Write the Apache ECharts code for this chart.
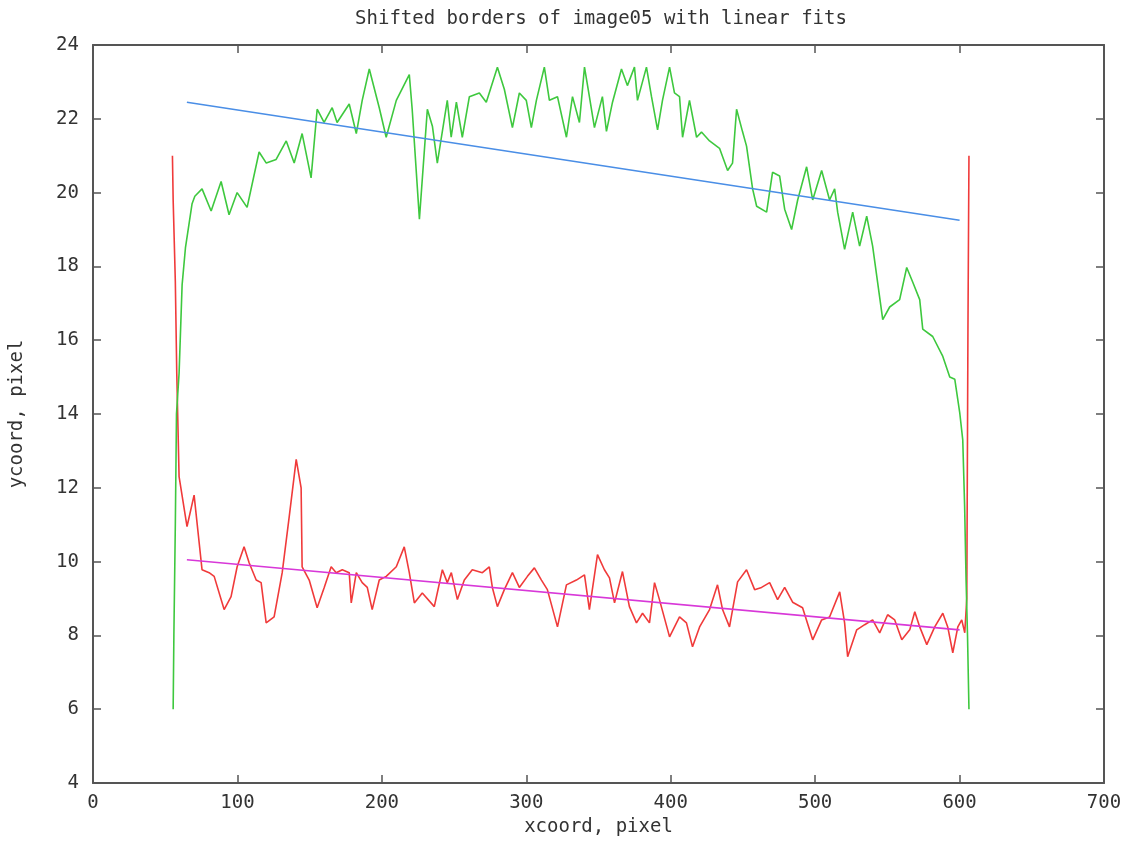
<!DOCTYPE html>
<html>
<head>
<meta charset="utf-8">
<script src="https://cdn.jsdelivr.net/npm/echarts@6/dist/echarts.min.js"></script>
<style>html,body{margin:0;padding:0;background:#fff}#c{width:1138px;height:846px}</style>
</head>
<body>
<div id="c"></div>
<script>
// Upper (green) border
const upperX = [55.5,56,57,57.8,59.6,61.7,64,68.6,70.5,75.5,81.8,88.7,94.2,99.8,106.7,115,120,126.8,133.8,139.3,144.8,151,155.2,160,165.6,169,177.4,182.3,186.4,191.3,198.2,203,210,219,221,226,231.5,235,238.4,245.3,248,251.6,255.7,260.6,267.5,272.3,280,284.8,290.4,295.2,300,303.5,307,312.5,316,321.6,327.8,332,336.8,340.3,343.7,347.2,352.7,355.5,359.7,365.9,370,374.9,377,383.2,386.7,390.9,394.3,399.2,402.6,406.1,408.2,413,417.9,421.3,426.9,433.8,439.4,442.8,445.6,449.8,452.5,456.7,459.5,466.4,470.5,475.4,478.9,483.7,487.9,494.1,498.3,504.5,510,513.5,515.6,520.4,526,530.8,535.7,539.8,546.8,551.6,558.5,563.4,567.6,572.4,574.5,581.4,588.4,593.2,596.7,600.1,602.2,603.5,604.5,605.5,606.5];
const upperY = [6.0,8.0,11.0,14.0,15.1,17.5,18.5,19.7,19.9,20.1,19.5,20.3,19.4,20.0,19.6,21.1,20.8,20.9,21.4,20.8,21.6,20.4,22.26,21.9,22.3,21.9,22.4,21.6,22.5,23.35,22.3,21.5,22.5,23.2,22.26,19.28,22.26,21.8,20.8,22.5,21.5,22.45,21.5,22.6,22.7,22.45,23.4,22.8,21.76,22.7,22.5,21.76,22.5,23.4,22.5,22.6,21.5,22.6,21.9,23.4,22.6,21.76,22.6,21.66,22.45,23.35,22.9,23.4,22.5,23.4,22.6,21.7,22.5,23.4,22.7,22.6,21.5,22.5,21.5,21.64,21.4,21.2,20.6,20.8,22.26,21.64,21.26,20.1,19.63,19.47,20.55,20.45,19.55,19.0,19.8,20.7,19.8,20.6,19.8,20.1,19.47,18.46,19.47,18.55,19.36,18.55,16.56,16.9,17.1,17.97,17.57,17.1,16.3,16.1,15.56,15.0,14.94,14.04,13.3,11.5,9.5,8.0,6.0];

// Lower (red) border
const lowerX = [55,55.5,57,58,59.6,65.1,70,75.5,80.4,83.9,90.8,95.6,99.8,104.6,108.1,113,116.4,119.9,125.4,131,135.8,140.7,144.1,144.8,149.7,155.2,160.1,164.9,168.4,172.6,177.4,178.8,182.3,186.4,189.9,193.3,198.2,203,210,215.5,219,222.5,228,236.3,241.9,245.3,248.1,252.3,257.1,262.6,269.6,274.4,276.5,280,284.8,290.4,295.2,300.8,305.6,310.5,314.6,321.6,327.8,334.7,340.3,343.7,349.3,354.1,357.6,361.1,366.6,371.4,376.3,380.5,385.3,388.8,392.2,399.2,406.1,410.9,415.1,420,426.9,432.4,435.9,440.7,446.3,452.5,458.1,462.9,468.5,474,478.9,484.4,491.3,498.3,504.5,510,517,520.4,522.5,528.8,534.3,539.8,544.7,550.2,555.1,560,565.5,569,572.4,577.3,582.8,588.4,591.8,595.3,598.8,601.5,603.6,605,605.8,606.5];
const lowerY = [21.0,19.8,17.6,15.1,12.3,10.95,11.8,9.78,9.7,9.6,8.7,9.05,9.86,10.4,9.97,9.5,9.43,8.34,8.5,9.7,11.2,12.77,12.0,9.86,9.5,8.75,9.3,9.86,9.7,9.78,9.7,8.88,9.7,9.43,9.3,8.7,9.5,9.6,9.86,10.4,9.7,8.88,9.15,8.78,9.78,9.43,9.7,8.97,9.5,9.78,9.7,9.86,9.3,8.78,9.24,9.7,9.3,9.6,9.83,9.5,9.24,8.23,9.37,9.5,9.64,8.7,10.19,9.78,9.56,8.88,9.73,8.78,8.34,8.6,8.34,9.43,8.97,7.96,8.5,8.34,7.69,8.23,8.7,9.37,8.7,8.23,9.45,9.78,9.24,9.3,9.43,8.97,9.3,8.9,8.75,7.88,8.42,8.5,9.18,8.34,7.42,8.15,8.29,8.42,8.07,8.56,8.42,7.88,8.15,8.64,8.23,7.75,8.23,8.6,8.23,7.53,8.23,8.42,8.07,9.0,16.3,21.0];

// Linear fits (end points)
const fitUpperX = [65, 600];
const fitUpperY = [22.45, 19.25];
const fitLowerX = [65, 600];
const fitLowerY = [10.05, 8.15];

const titleText = 'Shifted borders of image05 with linear fits';
const xName = 'xcoord, pixel';
const yName = 'ycoord, pixel';

function zip(a, b) { return a.map((v, i) => [v, b[i]]); }

const FONT = 'DejaVu Sans Mono';
const TXT = '#333';
const AX = '#555';
const FS = 19;

const chart = echarts.init(document.getElementById('c'), null, {renderer: 'canvas'});
chart.setOption({
  animation: false,
  backgroundColor: '#fff',
  title: {
    text: titleText,
    left: 596, top: 5, textAlign: 'center',
    textStyle: {fontFamily: FONT, fontSize: FS, fontWeight: 'normal', color: TXT}
  },
  grid: {left: 92, right: 34, top: 45, bottom: 63, containLabel: false},
  xAxis: [{
    type: 'value', min: 0, max: 700, interval: 100,
    name: xName, nameLocation: 'middle', nameGap: 33,
    nameTextStyle: {fontFamily: FONT, fontSize: FS, color: TXT},
    axisLine: {show: true, onZero: false, lineStyle: {color: AX, width: 2}},
    axisTick: {show: true, inside: true, length: 8, lineStyle: {color: AX, width: 1.5}},
    axisLabel: {fontFamily: FONT, fontSize: FS, color: TXT, margin: 11},
    splitLine: {show: false}
  }, {
    type: 'value', min: 0, max: 700, interval: 100, position: 'top',
    axisLine: {show: true, onZero: false, lineStyle: {color: AX, width: 2}},
    axisTick: {show: true, inside: true, length: 8, lineStyle: {color: AX, width: 1.5}},
    axisLabel: {show: false}, splitLine: {show: false}
  }],
  yAxis: [{
    type: 'value', min: 4, max: 24, interval: 2,
    name: yName, nameLocation: 'middle', nameGap: 66, nameRotate: 90,
    nameTextStyle: {fontFamily: FONT, fontSize: FS, color: TXT},
    axisLine: {show: true, onZero: false, lineStyle: {color: AX, width: 2}},
    axisTick: {show: true, inside: true, length: 8, lineStyle: {color: AX, width: 1.5}},
    axisLabel: {fontFamily: FONT, fontSize: FS, color: TXT, margin: 14},
    splitLine: {show: false}
  }, {
    type: 'value', min: 4, max: 24, interval: 2, position: 'right',
    axisLine: {show: true, onZero: false, lineStyle: {color: AX, width: 2}},
    axisTick: {show: true, inside: true, length: 8, lineStyle: {color: AX, width: 1.5}},
    axisLabel: {show: false}, splitLine: {show: false}
  }],
  series: [
    {type: 'line', data: zip(lowerX, lowerY), showSymbol: false, symbol: 'none',
     lineStyle: {color: '#f03a3a', width: 1.6}, z: 2},
    {type: 'line', data: zip(upperX, upperY), showSymbol: false, symbol: 'none',
     lineStyle: {color: '#3ec83e', width: 1.6}, z: 3},
    {type: 'line', data: zip(fitUpperX, fitUpperY), showSymbol: false, symbol: 'none',
     lineStyle: {color: '#4a8ee6', width: 1.6}, z: 4},
    {type: 'line', data: zip(fitLowerX, fitLowerY), showSymbol: false, symbol: 'none',
     lineStyle: {color: '#d838d8', width: 1.6}, z: 4}
  ]
});
</script>
</body>
</html>
